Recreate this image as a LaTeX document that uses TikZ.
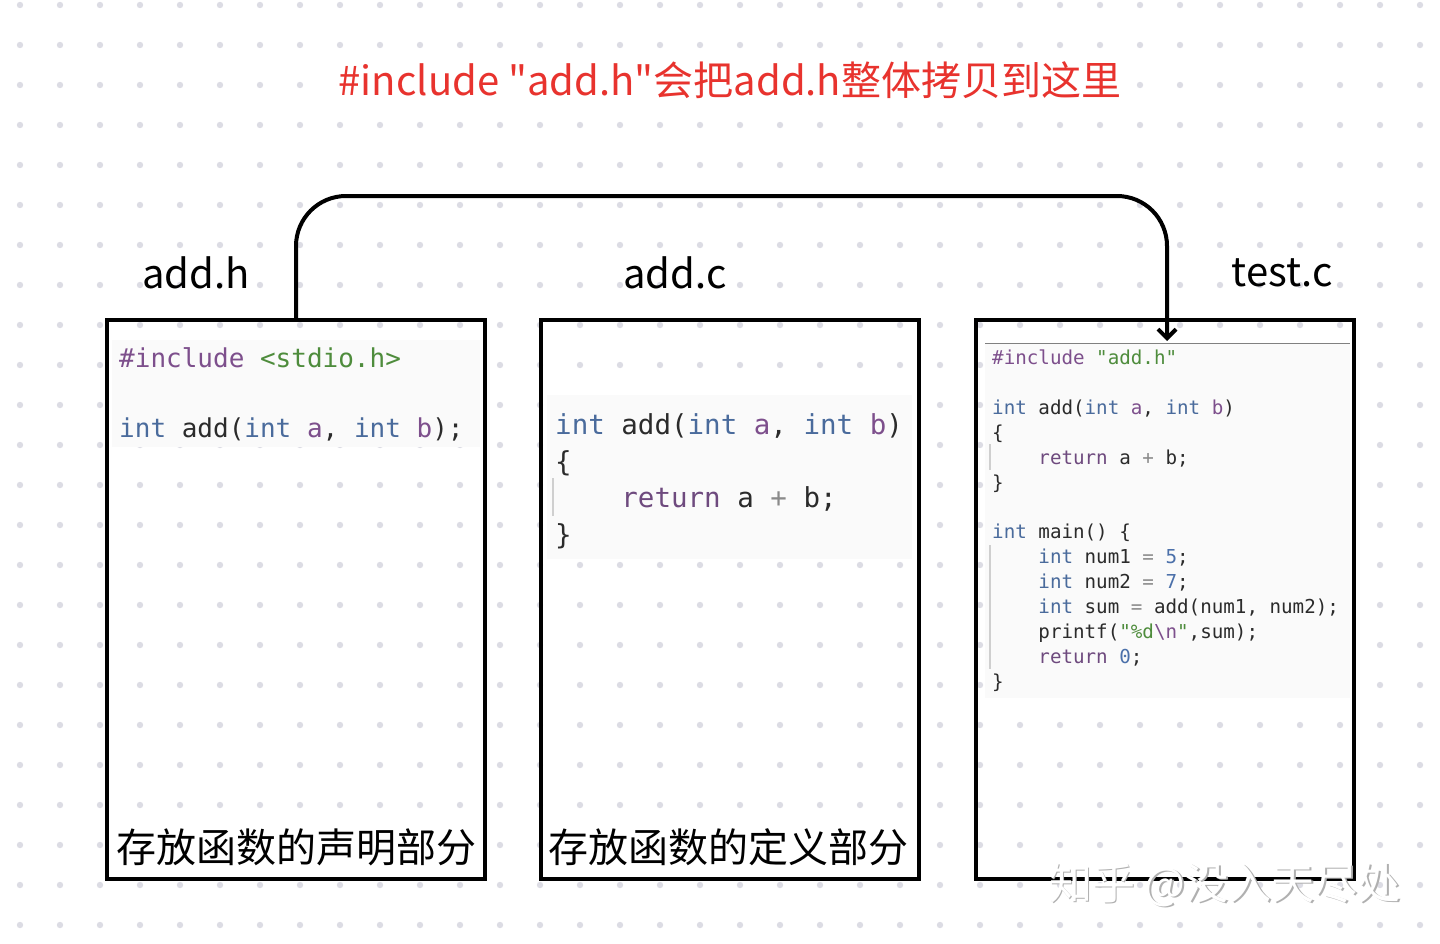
\documentclass[tikz,border=0pt]{standalone}
\usepackage{fontspec}
\newfontfamily\cjk{Noto Sans CJK SC}
\newfontfamily\codefont{DejaVu Sans Mono}
\usetikzlibrary{arrows.meta}
\definecolor{dotc}{HTML}{DCDCE4}
\definecolor{panelc}{HTML}{FAFAFA}
\definecolor{titlered}{HTML}{E8332E}
\definecolor{kwc}{HTML}{4A6B9C}
\definecolor{ppc}{HTML}{7D4F8C}
\definecolor{rtc}{HTML}{6E4A7E}
\definecolor{strc}{HTML}{4E8C3C}
\definecolor{numc}{HTML}{4B70AA}
\definecolor{txc}{HTML}{2B2B2B}
\definecolor{opc}{HTML}{8A8A8A}
\definecolor{guidec}{HTML}{CFCFCF}
\definecolor{wmshadow}{HTML}{B0B0B0}
\newcommand\hlK[1]{\textcolor{kwc}{#1}}
\newcommand\hlV[1]{\textcolor{ppc}{#1}}
\newcommand\hlR[1]{\textcolor{rtc}{#1}}
\newcommand\hlO[1]{\textcolor{opc}{#1}}
\newcommand\hlN[1]{\textcolor{numc}{#1}}
\newcommand\hlS[1]{\textcolor{strc}{#1}}
\newcommand\hlP[1]{\textcolor{ppc}{#1}}
\newcommand\ind{\phantom{0000}}
\begin{document}
\begin{tikzpicture}[x=1pt,y=-1pt,
  filebox/.style={draw=black, line width=4pt, minimum width=378pt, minimum height=559pt, inner sep=0pt},
  conn/.style={draw=black, line width=4pt, rounded corners=50pt, -{Straight Barb[length=9pt,width=18pt]}},
  code/.style={anchor=base west, inner sep=0pt, text=txc},
  codeL/.style={code, font=\codefont\fontsize{26}{30}\selectfont},
  codeM/.style={code, font=\codefont\fontsize{27.5}{32}\selectfont},
  codeR/.style={code, font=\codefont\fontsize{19.2}{23}\selectfont},
  fname/.style={font=\cjk\fontsize{40}{48}\selectfont, text=black, inner sep=0pt},
  cnlabel/.style={font=\cjk\fontsize{40}{48}\selectfont, text=black, fill=white, inner sep=1pt},
  wmark/.style={font=\cjk\fontsize{43}{50}\selectfont, inner sep=0pt},
  panel/.style={fill=panelc},
  guide/.style={draw=guidec, line width=1.2pt}
]
\useasboundingbox (0,0) rectangle (1440,943);
\fill[white] (0,0) rectangle (1440,943);
% dot grid
\foreach \i in {0,...,35}
  \foreach \j in {0,...,23}
    \fill[dotc] (20+40*\i, 5+40*\j) circle (3.2);
% code panels
\fill[panel] (112,340) rectangle (480,447);
\fill[panel] (547,395) rectangle (912,559);
\fill[panel] (985,343) rectangle (1350,698);
\draw[draw=gray, line width=1pt] (985,343) -- (1350,343);
% indent guides
\draw[guide] (553,478) -- (553,516);
\draw[guide] (990,444) -- (990,470);
\draw[guide] (990,545) -- (990,669);
% title
\node[font=\cjk\fontsize{40}{48}\selectfont, text=titlered, fill=white, inner sep=2pt] (title) at (730,80) {\#include "add.h"会把add.h整体拷贝到这里};
% file labels
\node[fname] (lh) at (196,273) {add.h};
\node[fname] (lc) at (675,273) {add.c};
\node[fname] (lt) at (1282,273) {test.c};
% boxes
\node[filebox] (hbox) at (296,599.5) {};
\node[filebox] (cbox) at (730,599.5) {};
\node[filebox] (tbox) at (1165,599.5) {};
% connector
\coordinate (tip) at (1167,341);
\draw[conn] (hbox.north) -- ++(0,-122) -| (tip);
% left code
\node[codeL] (h1) at (119,367) {\hlP{\#include} \hlS{<stdio.h>}};
\node[codeL] (h2) at (119,437) {\hlK{int} add(\hlK{int} \hlV{a}, \hlK{int} \hlV{b});};
% middle code
\node[codeM] (m1) at (555,434) {\hlK{int} add(\hlK{int} \hlV{a}, \hlK{int} \hlV{b})};
\node[codeM] (m2) at (555,471) {\{};
\node[codeM] (m3) at (555,507) {\ind\hlR{return} a \hlO{+} b;};
\node[codeM] (m4) at (555,544) {\}};
% right code
\node[codeR] (r1) at (992,364) {\hlP{\#include} \hlS{"add.h"}};
\node[codeR] (r2) at (992,414) {\hlK{int} add(\hlK{int} \hlV{a}, \hlK{int} \hlV{b})};
\node[codeR] (r3) at (992,439) {\{};
\node[codeR] (r4) at (992,464) {\ind\hlR{return} a \hlO{+} b;};
\node[codeR] (r5) at (992,489) {\}};
\node[codeR] (r6) at (992,538) {\hlK{int} main() \{};
\node[codeR] (r7) at (992,563) {\ind\hlK{int} num1 \hlO{=} \hlN{5};};
\node[codeR] (r8) at (992,588) {\ind\hlK{int} num2 \hlO{=} \hlN{7};};
\node[codeR] (r9) at (992,613) {\ind\hlK{int} sum \hlO{=} add(num1, num2);};
\node[codeR] (r10) at (992,638) {\ind printf(\hlS{"\%d}\hlV{\textbackslash n}\hlS{"},sum);};
\node[codeR] (r11) at (992,663) {\ind\hlR{return} \hlN{0};};
\node[codeR] (r12) at (992,688) {\}};
% bottom labels
\node[cnlabel] (hdesc) at (296,847) {存放函数的声明部分};
\node[cnlabel] (cdesc) at (728,847) {存放函数的定义部分};
% watermark
\node[wmark, text=wmshadow] (wms) at (1226.5,886.5) {知乎 @没入天尽处};
\node[wmark, text=white] (wm) at (1225,885) {知乎 @没入天尽处};
\end{tikzpicture}
\end{document}
